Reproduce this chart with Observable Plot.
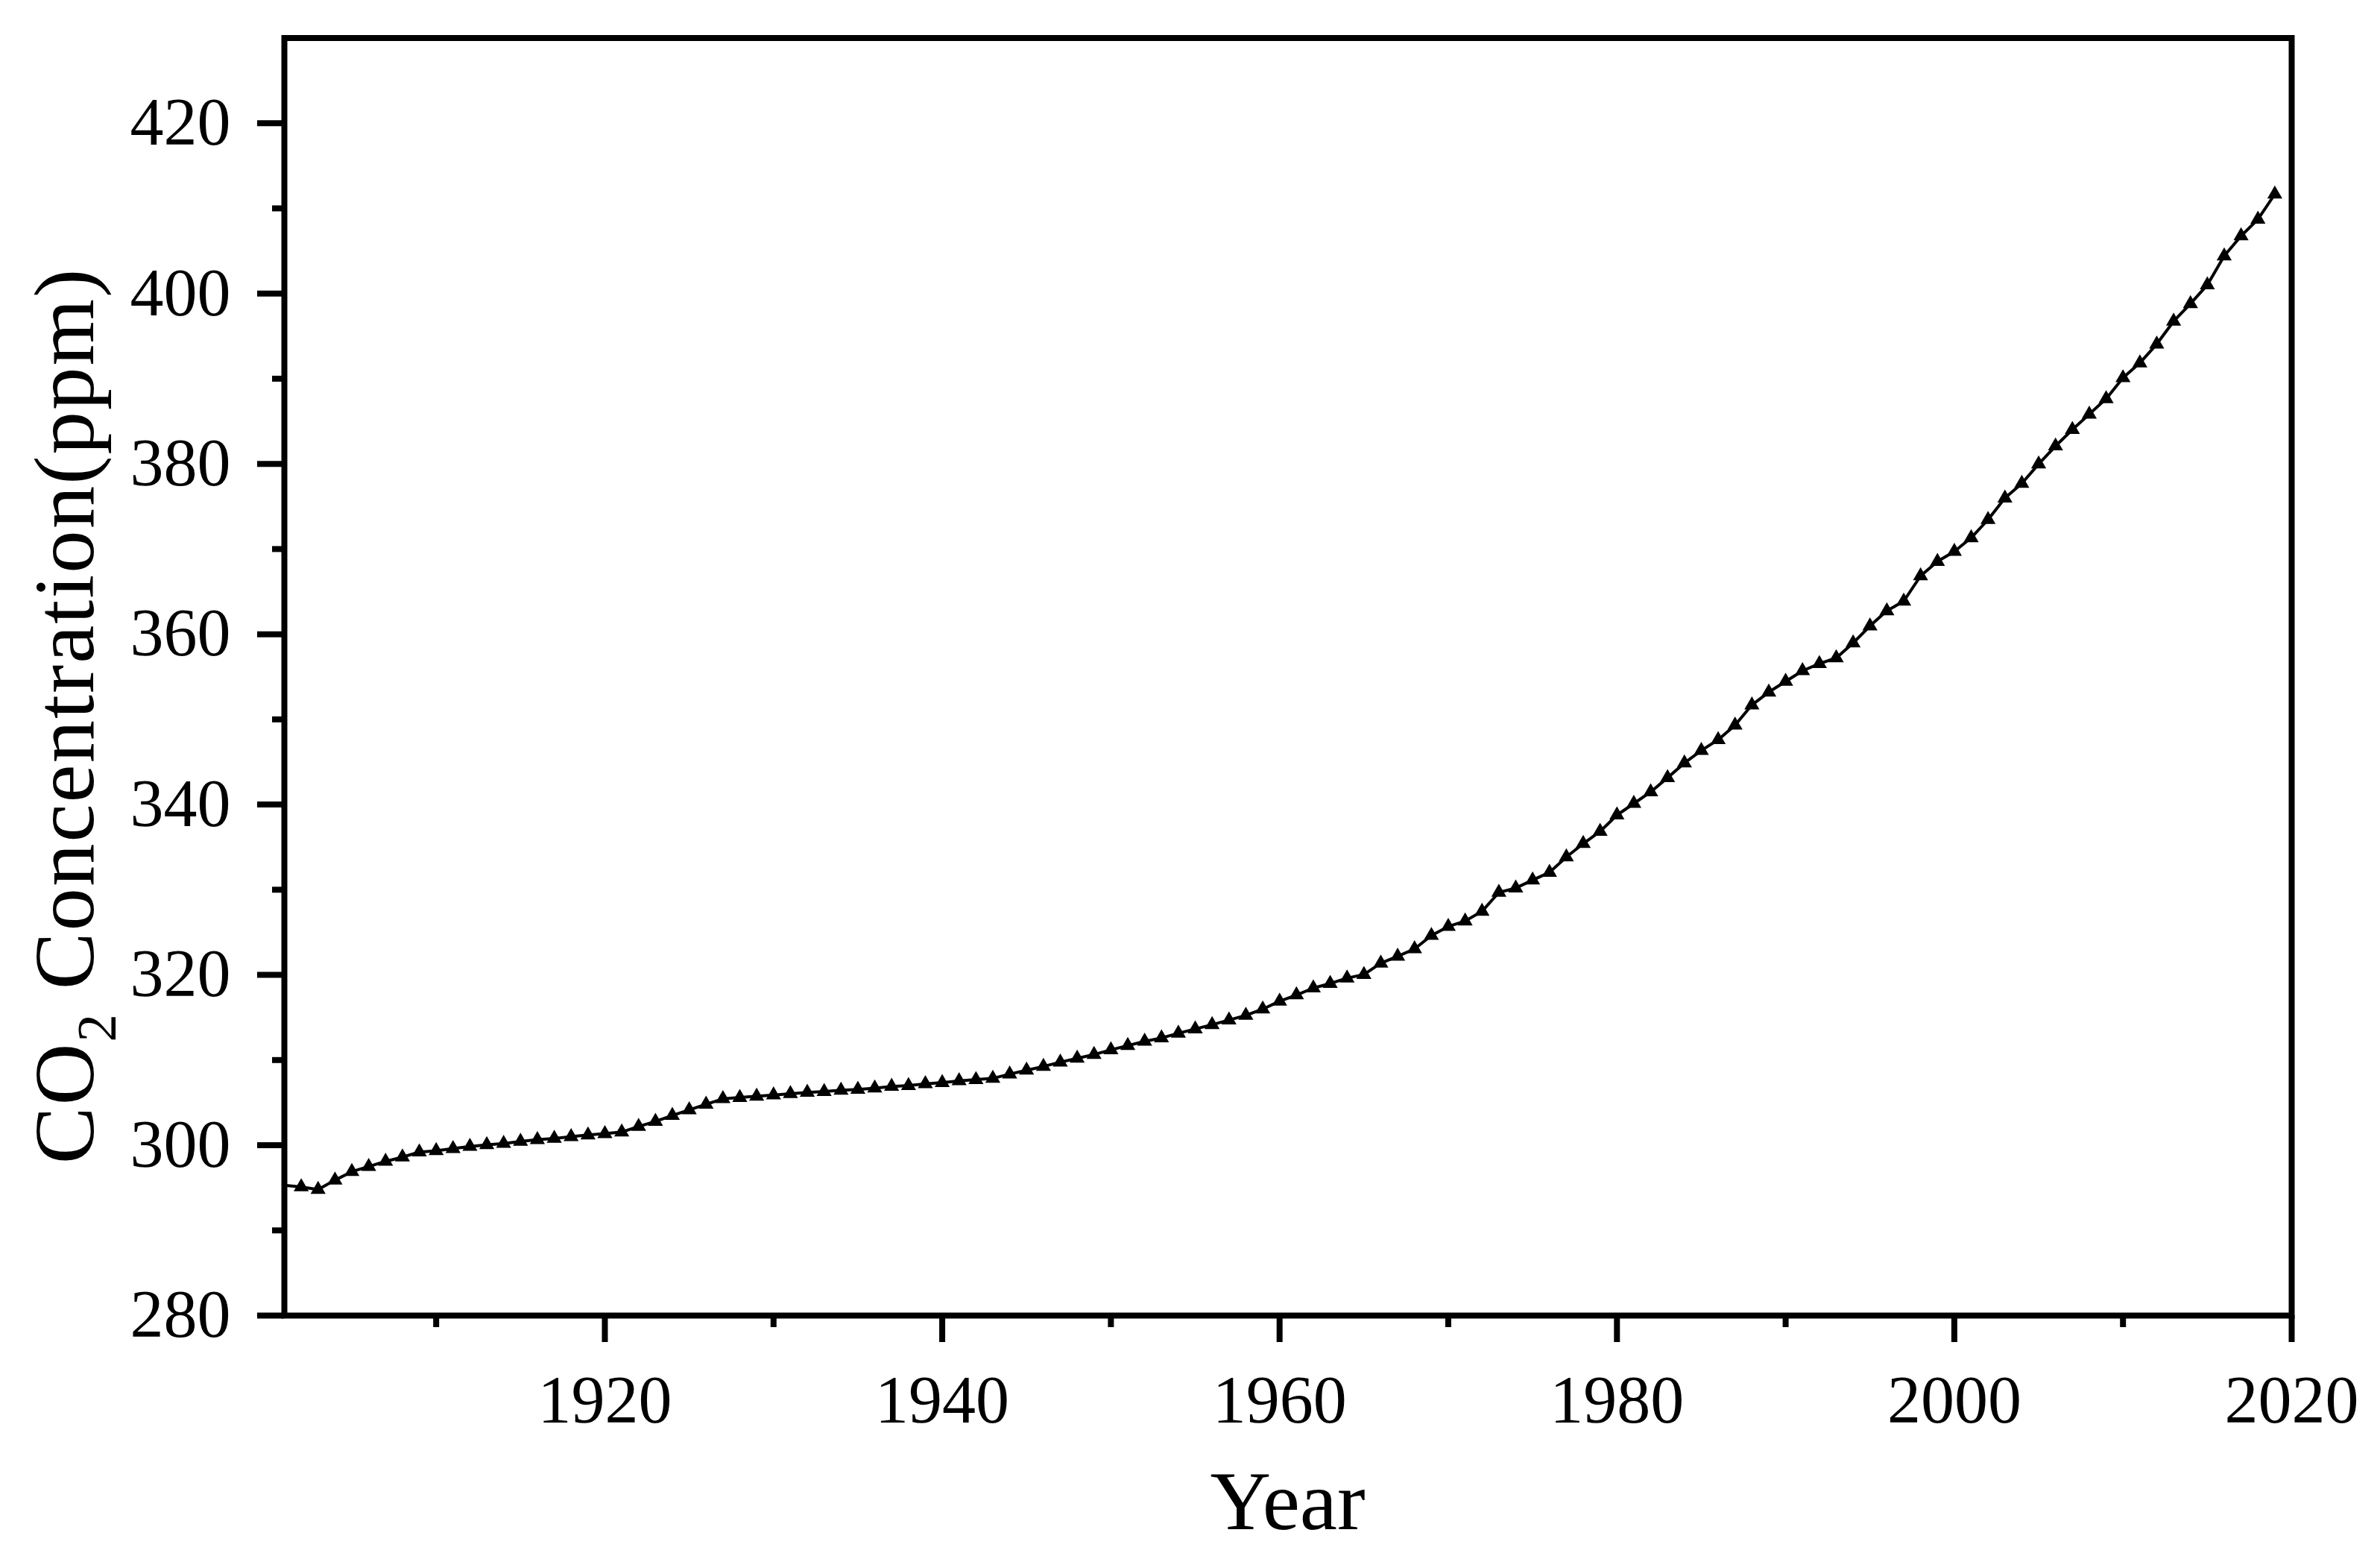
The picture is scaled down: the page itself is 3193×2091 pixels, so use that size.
<!DOCTYPE html>
<html>
<head>
<meta charset="utf-8">
<script src="https://cdn.jsdelivr.net/npm/d3@7"></script>
<script src="https://cdn.jsdelivr.net/npm/@observablehq/plot@0.6"></script>
<style>
  html, body { margin: 0; padding: 0; background: #ffffff; }
  #chart svg { display: block; }
</style>
</head>
<body>
<div id="chart"></div>
<script>
const years = [
  1901,1902,1903,1904,1905,1906,1907,1908,1909,1910,
  1911,1912,1913,1914,1915,1916,1917,1918,1919,1920,
  1921,1922,1923,1924,1925,1926,1927,1928,1929,1930,
  1931,1932,1933,1934,1935,1936,1937,1938,1939,1940,
  1941,1942,1943,1944,1945,1946,1947,1948,1949,1950,
  1951,1952,1953,1954,1955,1956,1957,1958,1959,1960,
  1961,1962,1963,1964,1965,1966,1967,1968,1969,1970,
  1971,1972,1973,1974,1975,1976,1977,1978,1979,1980,
  1981,1982,1983,1984,1985,1986,1987,1988,1989,1990,
  1991,1992,1993,1994,1995,1996,1997,1998,1999,2000,
  2001,2002,2003,2004,2005,2006,2007,2008,2009,2010,
  2011,2012,2013,2014,2015,2016,2017,2018,2019
];
const co2 = [
  295.3,295.1,294.8,295.9,296.9,297.5,298.1,298.6,299.2,299.35,
  299.6,299.85,300.05,300.2,300.45,300.65,300.8,301.0,301.2,301.35,
  301.55,302.2,302.8,303.5,304.15,304.8,305.45,305.6,305.75,305.9,
  306.05,306.2,306.3,306.45,306.55,306.7,306.9,307.0,307.2,307.35,
  307.55,307.7,307.85,308.35,308.8,309.25,309.75,310.2,310.65,311.2,
  311.7,312.2,312.6,313.15,313.65,314.15,314.7,315.25,315.98,316.91,
  317.64,318.45,318.99,319.62,320.04,321.37,322.18,323.05,324.62,325.68,
  326.32,327.46,329.68,330.19,331.13,332.03,333.84,335.41,336.84,338.76,
  340.12,341.48,343.15,344.87,346.35,347.61,349.31,351.69,353.20,354.45,
  355.70,356.54,357.21,358.96,360.97,362.74,363.88,366.84,368.54,369.71,
  371.32,373.45,375.98,377.70,379.98,382.09,384.02,385.83,387.64,390.10,
  391.85,394.06,396.74,398.81,401.01,404.41,406.76,408.72,411.66
];
const xMajorTicks = [1920, 1940, 1960, 1980, 2000, 2020];
const xMinorTicks = [1910, 1930, 1950, 1970, 1990, 2010];
const yMajorTicks = [280, 300, 320, 340, 360, 380, 400, 420];
const yMinorTicks = [290, 310, 330, 350, 370, 390, 410];
const xTitle = "Year";
const yTitleParts = ["CO", "2", " Concentration(ppm)"];

(function () {
  const data = years.map((year, i) => ({year, value: co2[i]}));
  const font = "'Liberation Serif', 'DejaVu Serif', serif";

  const W = 3193, H = 2091;
  const frameLeft = 381, frameRight = 3074, frameTop = 50.5, frameBottom = 1764;

  const chart = Plot.plot({
    width: W,
    height: H,
    marginLeft: frameLeft,
    marginRight: W - frameRight,
    marginTop: frameTop,
    marginBottom: H - frameBottom,
    style: {fontFamily: font, fontSize: "90px", background: "#ffffff", color: "#000000"},
    x: {domain: [1901, 2020], axis: null},
    y: {domain: [280, 430], axis: null},
    marks: [
      Plot.line(data, {x: "year", y: "value", stroke: "#000000", strokeWidth: 4}),
      Plot.dot(data.filter(d => d.year > 1901), {x: "year", y: "value", symbol: "triangle", r: 7.5, fill: "#000000", stroke: "none"}),
      Plot.axisY({ticks: yMajorTicks, tickSize: 36, tickPadding: 36, strokeWidth: 8, fontSize: 90, fontFamily: font, label: null, tickFormat: d => String(d)}),
      Plot.axisY({ticks: yMinorTicks, tickSize: 16, strokeWidth: 8, text: null, label: null}),
      Plot.axisX({ticks: xMajorTicks, tickSize: 36, tickPadding: 44, strokeWidth: 8, fontSize: 90, fontFamily: font, label: null, tickFormat: d => String(d)}),
      Plot.axisX({ticks: xMinorTicks, tickSize: 16, strokeWidth: 8, text: null, label: null}),
      Plot.frame({stroke: "#000000", strokeWidth: 8, fill: "none"})
    ]
  });

  const svg = d3.select(chart);

  svg.append("text")
    .attr("x", (frameLeft + frameRight) / 2)
    .attr("y", 2051)
    .attr("text-anchor", "middle")
    .attr("font-family", font)
    .attr("font-size", 113)
    .attr("fill", "#000000")
    .text(xTitle);

  const yt = svg.append("text")
    .attr("transform", "translate(125,960) rotate(-90)")
    .attr("text-anchor", "middle")
    .attr("font-family", font)
    .attr("font-size", 115)
    .attr("letter-spacing", 2)
    .attr("fill", "#000000");
  yt.append("tspan").text(yTitleParts[0]);
  yt.append("tspan").attr("font-size", 75).attr("dy", 30).text(yTitleParts[1]);
  yt.append("tspan").attr("dy", -30).text(yTitleParts[2]);

  document.getElementById("chart").appendChild(chart);
})();
</script>
</body>
</html>
